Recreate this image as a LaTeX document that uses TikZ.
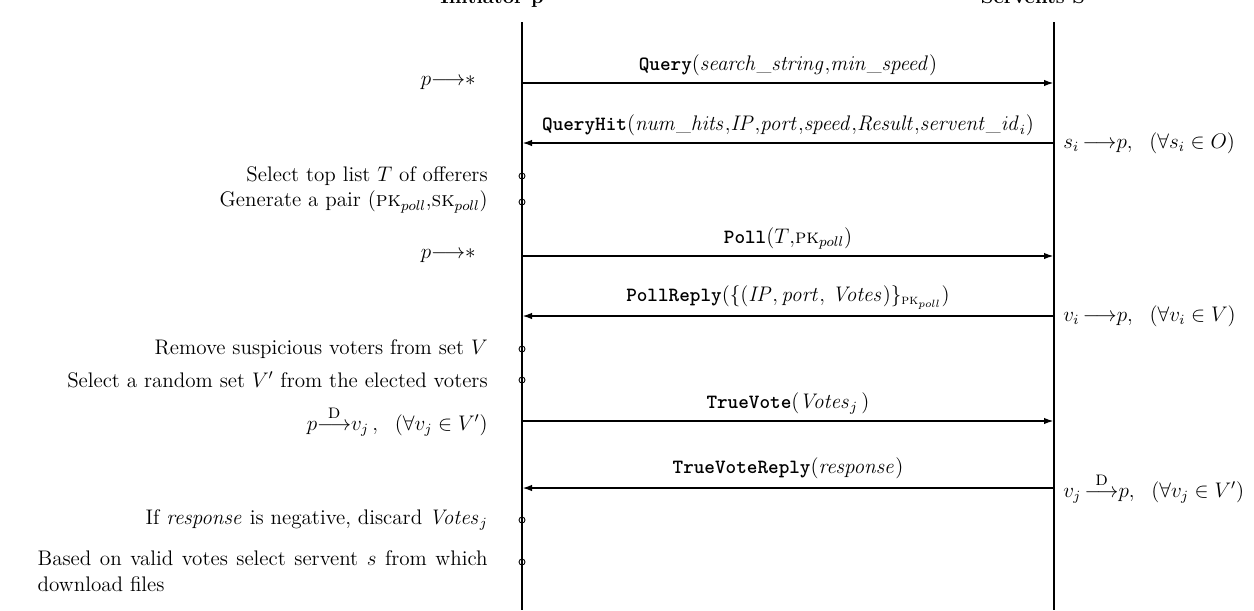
\documentclass[tikz,border=0pt]{standalone}
\usepackage{amssymb}
\usetikzlibrary{arrows.meta}

\begin{document}
\begin{tikzpicture}[
    every node/.style={font=\fontsize{11.5}{14}\selectfont},
    lifeline/.style={line width=1.1pt},
    msg/.style={line width=1.1pt, -{Latex[length=2mm,width=1.3mm]}},
    event/.style={circle, draw, line width=0.5pt, inner sep=0pt, minimum size=1.2mm},
    leftnote/.style={anchor=east, inner sep=0pt, font=\fontsize{12}{15}\selectfont},
    rightnote/.style={anchor=west, inner sep=0pt},
    header/.style={anchor=base, font=\fontsize{11.5}{14}\selectfont\bfseries}
  ]
  \useasboundingbox (0,0) rectangle (25.08,-12.2);

  % the two lifelines
  \node[header] (hp) at (9.84,-0.07) {Initiator p};
  \node[header] (hs) at (20.66,-0.07) {Servents S};
  \coordinate (ptop) at (10.44,-0.44);
  \coordinate (pbot) at (10.44,-12.2);
  \coordinate (stop) at (21.08,-0.44);
  \coordinate (sbot) at (21.08,-12.2);
  \draw[lifeline] (ptop) -- (pbot);
  \draw[lifeline] (stop) -- (sbot);

  % query phase
  \coordinate (p1) at (10.44,-1.66);
  \coordinate (s1) at (21.08,-1.66);
  \draw[msg] (p1) -- node[above] (m1) {\texttt{\textbf{Query}}$(\mathit{search\_string}{,}\mathit{min\_speed})$} (s1);
  \node[leftnote, font=\fontsize{11.5}{14}\selectfont] (l1) at (9.52,-1.66) {$p{\longrightarrow}{*}$};

  \coordinate (p2) at (10.44,-2.86);
  \coordinate (s2) at (21.08,-2.86);
  \draw[msg] (s2) -- node[above] (m2) {\texttt{\textbf{QueryHit}}$(\mathit{num\_hits}{,}\mathit{IP}{,}\mathit{port}{,}\mathit{speed}{,}\mathit{Result}{,}\mathit{servent\_id}_i)$} (p2);
  \node[rightnote] (r2) at (21.26,-2.86) {$s_i\,{\longrightarrow}p,\ \ (\forall s_i\in O)$};

  \node[event] (e1) at (10.44,-3.52) {};
  \node[leftnote] (l3) at (9.76,-3.52) {Select top list $T$ of offerers};
  \node[event] (e2) at (10.44,-4.04) {};
  \node[leftnote] (l4) at (9.76,-4.04) {Generate a pair (\textsc{pk}$_{poll}$,\textsc{sk}$_{poll}$)};

  % poll phase
  \coordinate (p3) at (10.44,-5.12);
  \coordinate (s3) at (21.08,-5.12);
  \draw[msg] (p3) -- node[above] (m3) {\texttt{\textbf{Poll}}$(T{,}$\textsc{pk}$_{poll})$} (s3);
  \node[leftnote, font=\fontsize{11.5}{14}\selectfont] (l5) at (9.52,-5.12) {$p{\longrightarrow}{*}$};

  \coordinate (p4) at (10.44,-6.32);
  \coordinate (s4) at (21.08,-6.32);
  \draw[msg] (s4) -- node[above] (m4) {\texttt{\textbf{PollReply}}$(\{(\mathit{IP},\mathit{port},\,\mathit{Votes})\}_{\mbox{\footnotesize\textsc{pk}}_{poll}})$} (p4);
  \node[rightnote] (r4) at (21.26,-6.32) {$v_i\,{\longrightarrow}p,\ \ (\forall v_i\in V)$};

  \node[event] (e3) at (10.44,-6.98) {};
  \node[leftnote] (l6) at (9.76,-6.98) {Remove suspicious voters from set $V$};
  \node[event] (e4) at (10.44,-7.60) {};
  \node[leftnote] (l7) at (9.76,-7.60) {Select a random set $V'$ from the elected voters};

  % true vote phase
  \coordinate (p5) at (10.44,-8.42);
  \coordinate (s5) at (21.08,-8.42);
  \draw[msg] (p5) -- node[above] (m5) {\texttt{\textbf{TrueVote}}$(\mathit{Votes}_j\,)$} (s5);
  \node[leftnote, font=\fontsize{11.5}{14}\selectfont] (l8) at (9.76,-8.42) {$p{\stackrel{\textsc{d}}{\longrightarrow}}v_j\,,\ \ (\forall v_j\in V')$};

  \coordinate (p6) at (10.44,-9.76);
  \coordinate (s6) at (21.08,-9.76);
  \draw[msg, line width=1.5pt] (s6) -- node[above=1pt] (m6) {\texttt{\textbf{TrueVoteReply}}$(\mathit{response})$} (p6);
  \node[rightnote] (r6) at (21.26,-9.76) {$v_j\,{\stackrel{\textsc{d}}{\longrightarrow}}p,\ \ (\forall v_j\in V')$};

  \node[event] (e5) at (10.44,-10.40) {};
  \node[leftnote] (l9) at (9.76,-10.40) {If $\mathit{response}$ is negative, discard $\mathit{Votes}_j$};
  \node[event] (e6) at (10.44,-11.24) {};
  \node[leftnote, anchor=north east, text width=9cm, align=justify] (l10) at (9.76,-11.0)
    {Based on valid votes select servent $s$ from which\linebreak download files};
\end{tikzpicture}
\end{document}
